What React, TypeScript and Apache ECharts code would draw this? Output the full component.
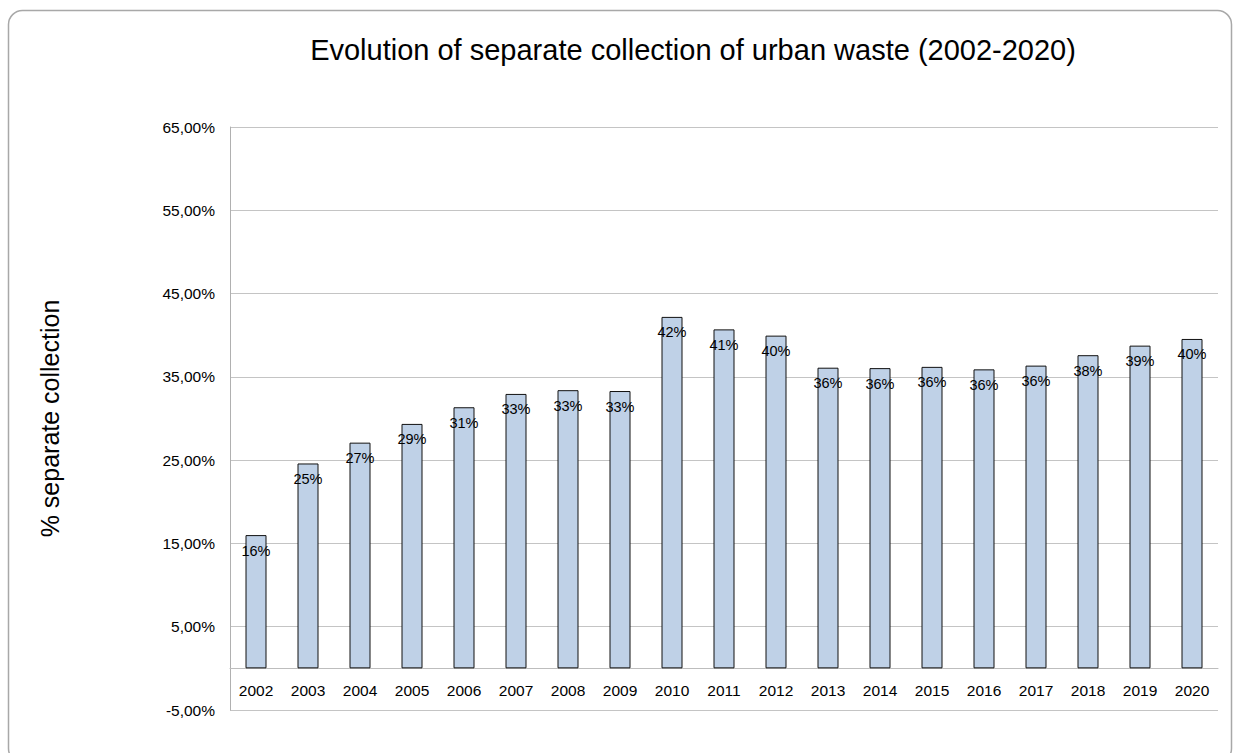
import React, { useEffect, useRef } from "react";
import * as echarts from "echarts";

const years = [
  "2002", "2003", "2004", "2005", "2006", "2007", "2008", "2009", "2010", "2011",
  "2012", "2013", "2014", "2015", "2016", "2017", "2018", "2019", "2020",
];

// Share of urban waste collected separately, in percent
const separateShare = [
  16.0, 24.6, 27.1, 29.35, 31.35, 32.95, 33.4, 33.3, 42.2, 40.7,
  39.95, 36.1, 36.05, 36.2, 35.9, 36.35, 37.6, 38.75, 39.55,
];

const yTicks = [-5, 5, 15, 25, 35, 45, 55, 65];
const yMin = -5;
const yMax = 65;

const titleText = "Evolution of separate collection of urban waste (2002-2020)";
const yAxisTitle = "% separate collection";

const FONT = "'Liberation Sans', Arial, sans-serif";

const GRID_TOP = 127;
const GRID_HEIGHT = 583;
// the category axis sits on the 0 % line, raised above the grid bottom
const zeroOffset = -(GRID_HEIGHT * (0 - yMin)) / (yMax - yMin);

export default function App() {
  const ref = useRef<HTMLDivElement>(null);

  useEffect(() => {
    if (!ref.current) return;
    const chart = echarts.init(ref.current, null, { renderer: "svg" });
    chart.setOption({
      animation: false,
      backgroundColor: "#ffffff",
      textStyle: { fontFamily: FONT },
      graphic: [
        {
          type: "rect",
          shape: { x: 8.5, y: 10.5, width: 1223, height: 752, r: 14 },
          style: { fill: "none", stroke: "#a8a8a8", lineWidth: 1.5 },
          silent: true,
          z: -10,
        },
        {
          type: "text",
          x: 693,
          y: 50,
          style: {
            text: titleText,
            fontFamily: FONT,
            fontSize: 29,
            fill: "#000000",
            textAlign: "center",
            textVerticalAlign: "middle",
          },
        },
      ],
      grid: { left: 230, top: GRID_TOP, width: 988, height: GRID_HEIGHT, containLabel: false },
      xAxis: {
        type: "category",
        data: years,
        offset: zeroOffset,
        axisLine: { show: true, onZero: false, lineStyle: { color: "#bdbdbd", width: 1 } },
        axisTick: { show: false },
        axisLabel: { color: "#000000", fontSize: 15.5, fontFamily: FONT, margin: 14 },
        splitLine: { show: false },
      },
      yAxis: {
        type: "value",
        min: yMin,
        max: yMax,
        name: yAxisTitle,
        nameLocation: "middle",
        nameRotate: 90,
        nameGap: 168,
        nameTextStyle: { fontSize: 25, color: "#000000", fontFamily: FONT },
        axisLine: { show: true, lineStyle: { color: "#b0b0b0", width: 1 } },
        axisTick: { show: false, customValues: yTicks },
        axisLabel: {
          customValues: yTicks,
          color: "#000000",
          fontSize: 15.5,
          fontFamily: FONT,
          margin: 15,
          formatter: (v: number) => v.toFixed(2).replace(".", ",") + "%",
        },
        splitLine: { show: true, lineStyle: { color: "#c4c4c4", width: 1.2 } },
      },
      series: [
        {
          type: "bar",
          data: separateShare,
          barWidth: 21,
          itemStyle: { color: "#bfd1e7", borderColor: "#111111", borderWidth: 1 },
          label: {
            show: true,
            position: "insideTop",
            distance: 8,
            color: "#000000",
            fontSize: 14.5,
            fontFamily: FONT,
            formatter: (p: any) => Math.round(p.value) + "%",
          },
        },
      ],
    });
    return () => chart.dispose();
  }, []);

  return (
    <div
      ref={ref}
      style={{ position: "absolute", left: 0, top: 0, width: 1240, height: 753 }}
    />
  );
}
